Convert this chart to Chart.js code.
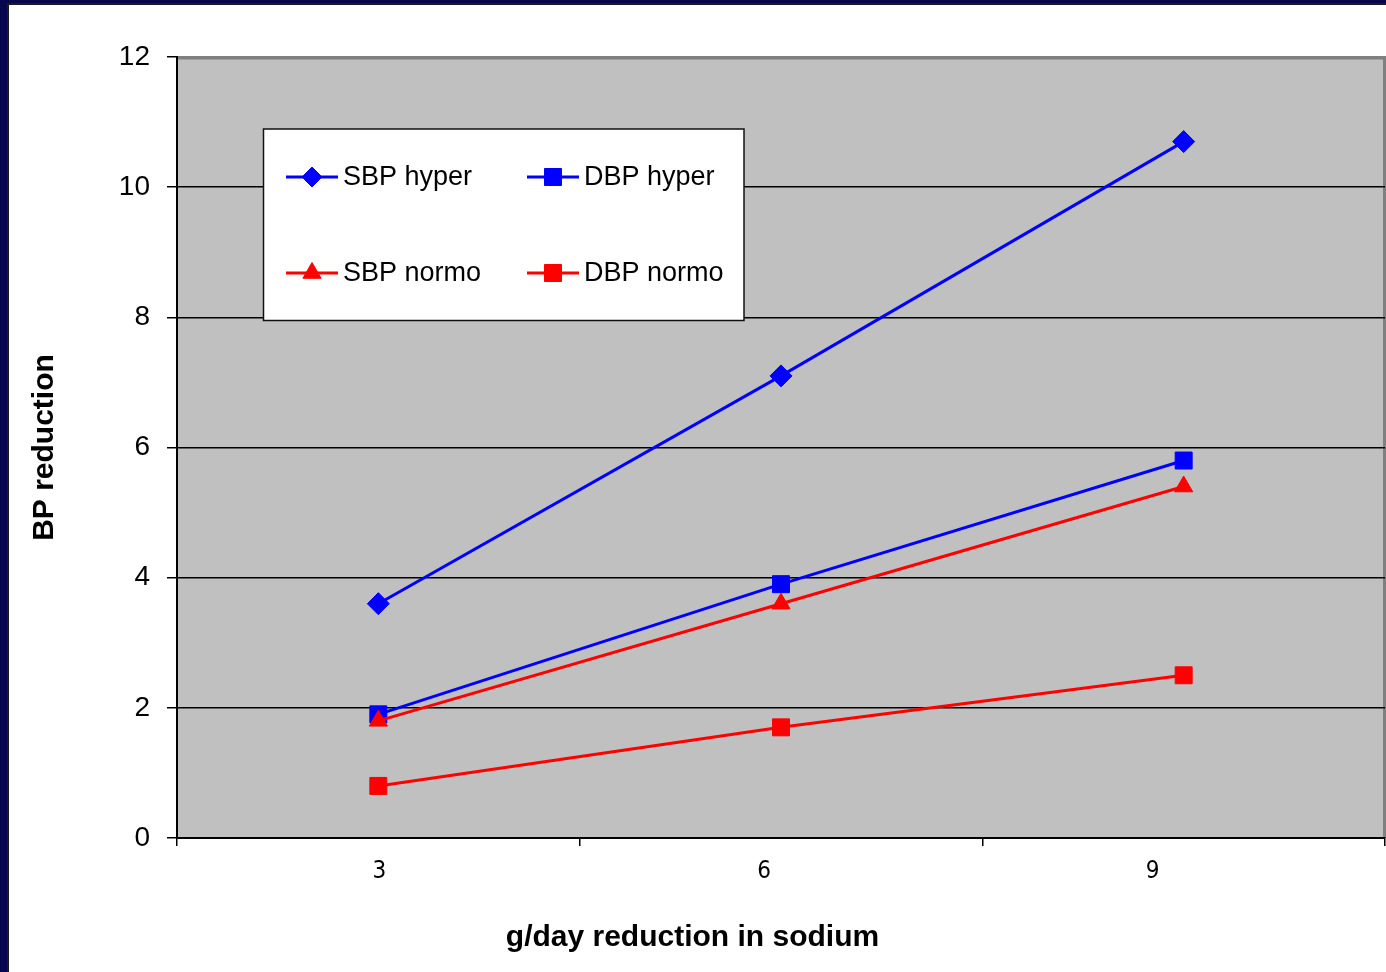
<!DOCTYPE html>
<html>
<head>
<meta charset="utf-8">
<script src="https://cdn.jsdelivr.net/npm/chart.js@4/dist/chart.umd.min.js"></script>
<style>
  html, body { margin: 0; padding: 0; background: #fff; }
  canvas { display: block; }
</style>
</head>
<body>
<canvas id="bp" width="1386" height="972"></canvas>
<script>
// Sodium reduction (g/day) categories
const sodiumReduction = ['3', '6', '9'];

// Blood-pressure reduction per group
const sbpHyper = [3.6, 7.1, 10.7];
const dbpHyper = [1.9, 3.9, 5.8];
const sbpNormo = [1.8, 3.6, 5.4];
const dbpNormo = [0.8, 1.7, 2.5];

// Value axis range and step
const yMin = 0;
const yMax = 12;
const yStep = 2;

const BLUE = '#0000ff';
const RED = '#ff0000';
const SANS = '"Liberation Sans", Arial, Helvetica, sans-serif';
const NARROW = '"Liberation Sans Narrow", "DejaVu Sans Condensed", sans-serif';

function series(label, data, color, pointStyle, radius, order, legendRadius) {
  return {
    label, data, order,
    borderColor: color,
    backgroundColor: color,
    borderWidth: 3,
    tension: 0,
    pointStyle,
    pointRadius: radius,
    pointBackgroundColor: color,
    pointBorderColor: color,
    pointBorderWidth: 1,
    legendRadius
  };
}

// Page background, grey plotting area with its frame, and the window edge
const framePlugin = {
  id: 'frame',
  beforeDraw(chart) {
    const { ctx, chartArea: a, width, height } = chart;
    ctx.save();
    ctx.fillStyle = '#ffffff';
    ctx.fillRect(0, 0, width, height);
    ctx.fillStyle = '#c0c0c0';
    ctx.fillRect(a.left, a.top, width - a.left, a.bottom - a.top);
    ctx.fillStyle = '#808080';
    ctx.fillRect(a.left, a.top - 1, width - a.left, 3.5);
    ctx.fillRect(width - 3, a.top - 1, 3, a.bottom - a.top + 1);
    ctx.fillStyle = '#07074d';
    ctx.fillRect(0, 0, 7, height);
    ctx.fillRect(0, 0, width, 3);
    ctx.fillStyle = '#1c1c1c';
    ctx.fillRect(7, 3, 2, height);
    ctx.fillRect(7, 3, width, 2);
    ctx.restore();
  }
};

// Category labels under the x axis
const xLabelPlugin = {
  id: 'xLabels',
  afterDraw(chart) {
    const s = chart.scales.x;
    const ctx = chart.ctx;
    const nudge = [1, -17, -31];
    ctx.save();
    ctx.font = '24px ' + NARROW;
    ctx.fillStyle = '#000';
    ctx.textAlign = 'center';
    ctx.textBaseline = 'middle';
    s.getLabels().forEach((lab, i) => {
      ctx.fillText(lab, s.getPixelForValue(i) + nudge[i], s.top + 34);
    });
    ctx.restore();
  }
};

// Boxed two-column legend inside the plotting area
const legendPlugin = {
  id: 'boxLegend',
  afterDatasetsDraw(chart) {
    const ctx = chart.ctx;
    const box = { x: 263.5, y: 129, w: 480.5, h: 191.5 };
    const colX = [286, 527];
    const rowY = [177, 273];
    ctx.save();
    ctx.fillStyle = '#ffffff';
    ctx.fillRect(box.x, box.y, box.w, box.h);
    ctx.strokeStyle = '#111';
    ctx.lineWidth = 1.5;
    ctx.strokeRect(box.x, box.y, box.w, box.h);
    chart.data.datasets.forEach((ds, i) => {
      const x0 = colX[i % 2];
      const y0 = rowY[Math.floor(i / 2)];
      ctx.strokeStyle = ds.borderColor;
      ctx.lineWidth = 3;
      ctx.beginPath();
      ctx.moveTo(x0, y0);
      ctx.lineTo(x0 + 52, y0);
      ctx.stroke();
      ctx.fillStyle = ds.pointBackgroundColor;
      ctx.strokeStyle = ds.pointBorderColor;
      ctx.lineWidth = 1;
      Chart.helpers.drawPoint(ctx, {
        pointStyle: ds.pointStyle,
        radius: ds.legendRadius,
        rotation: 0,
        borderWidth: 1
      }, x0 + 26, y0);
      ctx.fillStyle = '#000';
      ctx.font = '27px ' + SANS;
      ctx.textAlign = 'left';
      ctx.textBaseline = 'middle';
      ctx.fillText(ds.label, x0 + 57, y0 + 1);
    });
    ctx.restore();
  }
};

new Chart(document.getElementById('bp'), {
  type: 'line',
  data: {
    labels: sodiumReduction,
    datasets: [
      series('SBP hyper', sbpHyper, BLUE, 'rectRot', 11, 3, 10),
      series('DBP hyper', dbpHyper, BLUE, 'rect', 12, 2, 12),
      series('SBP normo', sbpNormo, RED, 'triangle', 10.5, 1, 10.5),
      series('DBP normo', dbpNormo, RED, 'rect', 12, 0, 12)
    ]
  },
  options: {
    responsive: false,
    animation: false,
    devicePixelRatio: 1,
    events: [],
    layout: { autoPadding: false, padding: { top: 57, right: 1, left: 0, bottom: 16 } },
    plugins: {
      legend: { display: false },
      tooltip: { enabled: false },
      title: {
        display: true,
        position: 'bottom',
        text: 'g/day reduction in sodium',
        color: '#000',
        font: { family: SANS, size: 30, weight: 'bold' },
        padding: { top: 0, bottom: 0 }
      }
    },
    scales: {
      x: {
        offset: true,
        grid: { offset: true, drawOnChartArea: false, tickLength: 8, color: '#000', lineWidth: 1.5 },
        border: { color: '#000', width: 2 },
        ticks: { display: false },
        afterFit(s) { s.height = 82; }
      },
      y: {
        min: yMin,
        max: yMax,
        ticks: {
          stepSize: yStep,
          color: '#000',
          font: { family: SANS, size: 28 },
          padding: 17
        },
        grid: {
          color: c => (c.tick && c.tick.value === yMax) ? 'rgba(0,0,0,0)' : '#000',
          tickColor: '#000',
          tickLength: 10,
          lineWidth: 1.5
        },
        border: { color: '#000', width: 2 },
        title: {
          display: true,
          text: 'BP reduction',
          color: '#000',
          font: { family: SANS, size: 30, weight: 'bold' },
          padding: { top: 27, bottom: 0 }
        },
        afterFit(s) { s.width = 177; }
      }
    }
  },
  plugins: [framePlugin, xLabelPlugin, legendPlugin]
});
</script>
</body>
</html>
